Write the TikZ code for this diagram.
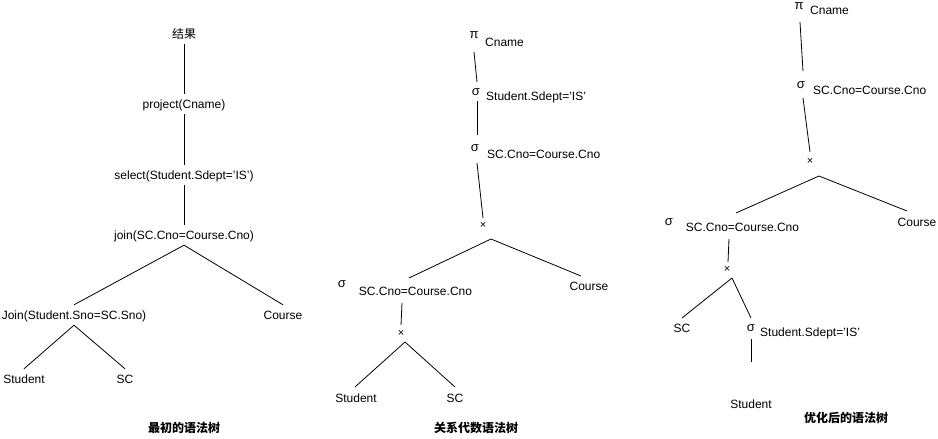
\documentclass[tikz,border=0pt]{standalone}
\usepackage{fontspec}
\setmainfont{Liberation Sans}
\newfontfamily\cjk{Noto Sans CJK SC}
\tikzset{
  lbl/.style={inner sep=0pt, text height=10.5pt, text depth=2.5pt, font=\fontsize{12}{14}\selectfont},
  tnode/.style={lbl, minimum height=20pt},
  lft/.style={lbl, anchor=west},
  sym/.style={inner sep=0pt, text height=7pt, text depth=1pt, font=\fontsize{13}{15}\selectfont},
  crs/.style={inner sep=0pt, font=\fontsize{11}{13}\selectfont},
  ttl/.style={inner sep=0pt, text height=10.5pt, text depth=2.5pt, font=\cjk\bfseries\fontsize{12}{14}\selectfont},
  edge/.style={draw=black, line width=0.8pt}
}
\begin{document}
\begin{tikzpicture}[x=1pt,y=-1pt]
\useasboundingbox[fill=white] (0,0) rectangle (938,439);
% ---------- Tree 1 ----------
\node[tnode, font=\cjk\fontsize{12}{14}\selectfont] (t1r) at (184,34) {结果};
\node[tnode] (t1p) at (184,104) {project(Cname)};
\node[tnode] (t1s) at (184,175) {select(Student.Sdept='IS')};
\node[tnode] (t1j) at (184,235) {join(SC.Cno=Course.Cno)};
\node[tnode] (t1J) at (74,315) {Join(Student.Sno=SC.Sno)};
\node[tnode] (t1c) at (283,315) {Course};
\node[tnode] (t1st) at (24,379) {Student};
\node[tnode] (t1sc) at (125,379) {SC};
\node[ttl] (t1t) at (184,428) {最初的语法树};
\draw[edge] (t1r.south) -- (t1p.north);
\draw[edge] (t1p.south) -- (t1s.north);
\draw[edge] (t1s.south) -- (t1j.north);
\draw[edge] (t1j.south) -- (t1J.north);
\draw[edge] (t1j.south) -- (t1c.north);
\draw[edge] (t1J.south) -- (t1st.north);
\draw[edge] (t1J.south) -- (t1sc.north);
% ---------- Tree 2 ----------
\node[sym] (p2) at (474,35) {π};
\node[lft] (p2l) at (485,42) {Cname};
\node[sym] (s2a) at (476,92) {σ};
\node[lft] (s2al) at (486,96) {Student.Sdept='IS'};
\node[sym] (s2b) at (475,148) {σ};
\node[lft] (s2bl) at (487,154) {SC.Cno=Course.Cno};
\node[crs] (x2) at (483,225) {×};
\node[sym] (s2c) at (342,284) {σ};
\node[lbl] (l2c) at (415.5,291) {SC.Cno=Course.Cno};
\node[lbl] (c2) at (589,286) {Course};
\node[crs] (x2b) at (401,333) {×};
\node[lbl] (st2) at (356,398) {Student};
\node[lbl] (sc2) at (455,398) {SC};
\node[ttl] (t2t) at (476,428) {关系代数语法树};
\draw[edge] ([yshift=-17pt]p2.center) -- ([xshift=1pt,yshift=10pt]s2a.center);
\draw[edge] ([xshift=1pt,yshift=-9pt]s2a.center) -- ([xshift=2pt,yshift=13pt]s2b.center);
\draw[edge] ([xshift=2pt,yshift=-15pt]s2b.center) -- ([yshift=7pt]x2.center);
\draw[edge] ([xshift=8pt,yshift=-14pt]x2.center) -- ([xshift=-6.5pt,yshift=13pt]l2c.center);
\draw[edge] ([xshift=8pt,yshift=-14pt]x2.center) -- ([xshift=-8pt,yshift=10pt]c2.center);
\draw[edge] ([xshift=-13.5pt,yshift=-12pt]l2c.center) -- ([yshift=8pt]x2b.center);
\draw[edge] ([xshift=4pt,yshift=-9pt]x2b.center) -- ([xshift=-1pt,yshift=11pt]st2.center);
\draw[edge] ([xshift=4pt,yshift=-9pt]x2b.center) -- ([yshift=11pt]sc2.center);
% ---------- Tree 3 ----------
\node[sym] (p3) at (799,6.5) {π};
\node[lft] (p3l) at (810,11) {Cname};
\node[sym] (s3a) at (801,85) {σ};
\node[lft] (s3al) at (813,90) {SC.Cno=Course.Cno};
\node[crs] (x3) at (810,161) {×};
\node[sym] (s3b) at (669,222) {σ};
\node[lbl] (l3b) at (742.5,227) {SC.Cno=Course.Cno};
\node[lbl] (c3) at (917,222) {Course};
\node[crs] (x3b) at (727,269) {×};
\node[lbl] (sc3) at (682,328) {SC};
\node[sym] (s3c) at (751,328) {σ};
\node[lft] (s3cl) at (760,332) {Student.Sdept='IS'};
\node[lbl] (st3) at (751,404) {Student};
\node[ttl] (t3t) at (846,418) {优化后的语法树};
\draw[edge] ([xshift=1pt,yshift=-15.5pt]p3.center) -- ([xshift=2pt,yshift=14pt]s3a.center);
\draw[edge] ([xshift=2pt,yshift=-13pt]s3a.center) -- ([yshift=9pt]x3.center);
\draw[edge] ([xshift=9pt,yshift=-15pt]x3.center) -- ([xshift=-6.5pt,yshift=14pt]l3b.center);
\draw[edge] ([xshift=9pt,yshift=-15pt]x3.center) -- ([xshift=-10pt,yshift=11pt]c3.center);
\draw[edge] ([xshift=-13.5pt,yshift=-12pt]l3b.center) -- ([xshift=1pt,yshift=7pt]x3b.center);
\draw[edge] ([xshift=5pt,yshift=-9pt]x3b.center) -- ([yshift=10pt]sc3.center);
\draw[edge] ([xshift=5pt,yshift=-9pt]x3b.center) -- ([yshift=10pt]s3c.center);
\draw[edge] ([yshift=-11pt]s3c.center) -- ([yshift=42pt]st3.center);
\end{tikzpicture}
\end{document}
